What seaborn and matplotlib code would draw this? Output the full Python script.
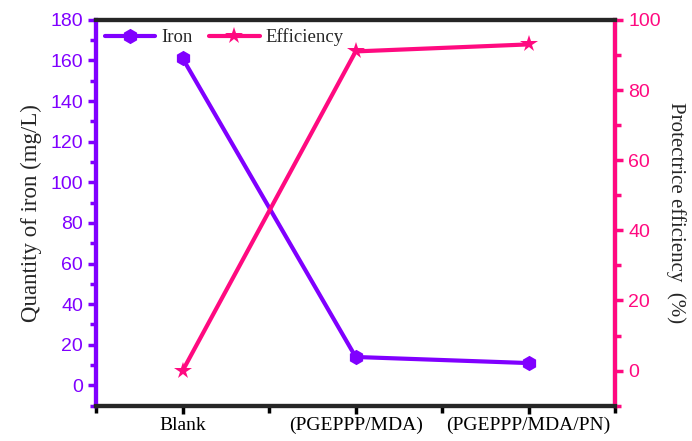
import matplotlib
matplotlib.use("Agg")
import matplotlib.pyplot as plt
from matplotlib.ticker import MultipleLocator
import seaborn as sns
import pandas as pd

categories = ["Blank", "(PGEPPP/MDA)", "(PGEPPP/MDA/PN)"]
iron = [161, 14, 11]
efficiency = [0, 91, 93]

PURPLE = "#8000FF"
PINK = "#FF0A80"

sns.set_style("ticks")
plt.rcParams['font.family'] = ['Liberation Sans', 'DejaVu Sans']

df = pd.DataFrame({"x": [1, 2, 3], "iron": iron, "eff": efficiency})

fig = plt.figure(figsize=(6.92, 4.41), dpi=100)
ax = fig.add_axes([0.139, 0.08, 0.75, 0.875])
ax2 = ax.twinx()

sns.lineplot(data=df, x="x", y="iron", ax=ax, color=PURPLE, lw=3, marker="h",
             markersize=11, markeredgewidth=0, label="Iron", legend=False)
sns.lineplot(data=df, x="x", y="eff", ax=ax2, color=PINK, lw=3, marker="*",
             markersize=13, markeredgewidth=0, label="Efficiency", legend=False)

ax.set_xlim(0.5, 3.5)
ax.set_ylim(-10, 180)
ax2.set_ylim(-10, 100)

ax.set_xticks([1, 2, 3])
ax.set_xticklabels(categories, family="Liberation Serif", fontsize=14)
ax.xaxis.set_minor_locator(MultipleLocator(0.5))
ax.set_yticks(range(0, 181, 20))
ax.yaxis.set_minor_locator(MultipleLocator(10))
ax2.set_yticks(range(0, 101, 20))
ax2.yaxis.set_minor_locator(MultipleLocator(10))

ax.set_xlabel("")
ax.set_ylabel("Quantity of iron (mg/L)", family="Liberation Serif", fontsize=16.5, labelpad=6)
ax2.set_ylabel("Protectrice efficiency  (%)", family="Liberation Serif", fontsize=15,
               rotation=270, labelpad=18)

for a in (ax, ax2):
    for s in a.spines.values():
        s.set_linewidth(3)
        s.set_visible(True)
ax.spines["left"].set_color(PURPLE)
ax.spines["bottom"].set_color("black")
ax.spines["top"].set_color("black")
ax2.spines["right"].set_color(PINK)
ax2.spines["left"].set_color(PURPLE)

ax.tick_params(axis="y", which="both", colors=PURPLE, labelsize=14, width=2.5, direction="out")
ax.tick_params(axis="y", which="major", length=6)
ax.tick_params(axis="y", which="minor", length=4)
ax2.tick_params(axis="y", which="both", colors=PINK, labelsize=14, width=2.5, direction="out")
ax2.tick_params(axis="y", which="major", length=6)
ax2.tick_params(axis="y", which="minor", length=4)
ax.tick_params(axis="x", which="both", colors="black", width=2.5, direction="out", pad=2)
ax.tick_params(axis="x", which="major", length=6)
ax.tick_params(axis="x", which="minor", length=5)

h1, l1 = ax.get_legend_handles_labels()
h2, l2 = ax2.get_legend_handles_labels()
ax2.legend(h1 + h2, l1 + l2, loc="upper left", ncol=2, frameon=False,
           prop={"family": "Liberation Serif", "size": 13.5}, handlelength=2.7,
           borderaxespad=0.0, borderpad=0.45, columnspacing=0.9, handletextpad=0.3)

fig.savefig("out.png", dpi=100)
